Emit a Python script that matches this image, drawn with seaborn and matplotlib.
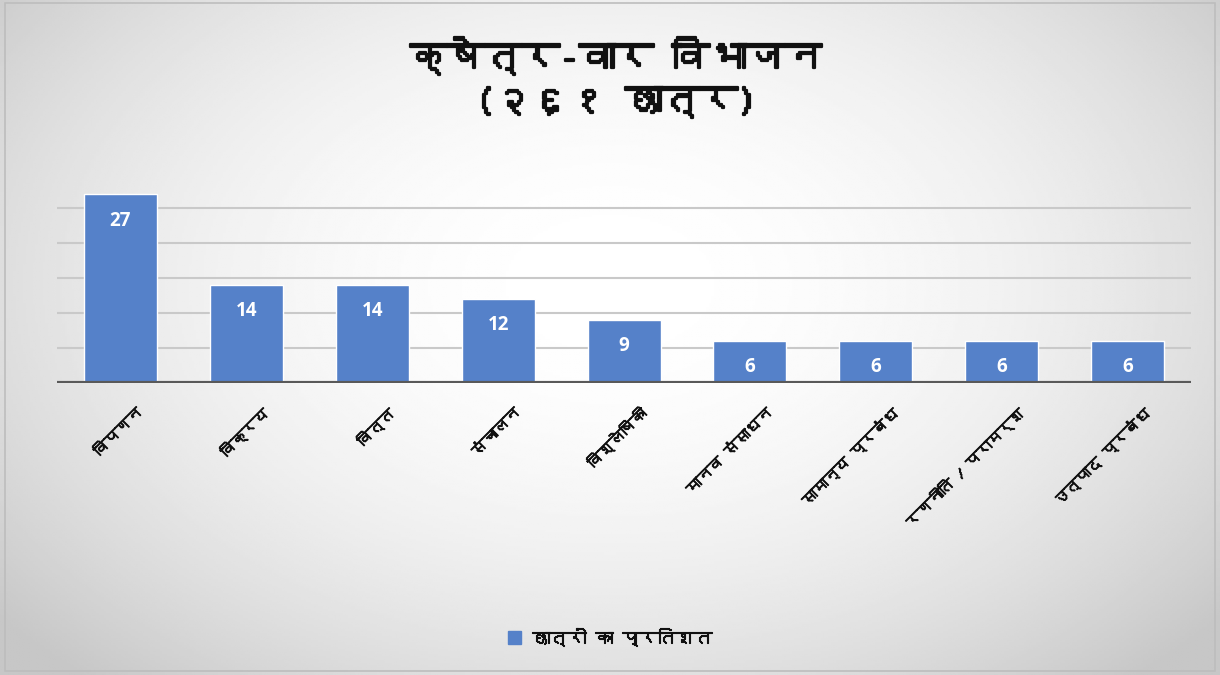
import numpy as np
import matplotlib
matplotlib.use("Agg")
import matplotlib.pyplot as plt
import matplotlib.patheffects as pe
import matplotlib.transforms as mtrans
import seaborn as sns
from matplotlib import font_manager
from matplotlib.ft2font import FT2Font
from matplotlib.patches import Patch

# chart data
categories = ["विपणन", "विक्रय", "वित्त", "संचालन", "विश्लेषिकी",
              "मानव संसाधन", "सामान्य प्रबंध", "रणनीति / परामर्श", "उत्पाद प्रबंध"]
values = [27, 14, 14, 12, 9, 6, 6, 6, 6]
title_text = "क्षेत्र-वार विभाजन\n(२६१ छात्र)"
series_name = "छात्रों का प्रतिशत"
grid_ticks = [5, 10, 15, 20, 25]

bar_color = "#5581c9"


def find_devanagari_font():
    # look for any installed family that has Devanagari glyphs
    for f in font_manager.fontManager.ttflist:
        try:
            if 0x0915 in FT2Font(f.fname).get_charmap():
                return f.name
        except Exception:
            continue
    return None


sns.set_theme(style="white")
deva = find_devanagari_font()
families = ([deva] if deva else []) + ["DejaVu Sans"]
plt.rcParams["font.family"] = families


def heavy(w):
    # fake a bold weight for the Devanagari font
    return [pe.withStroke(linewidth=w, foreground="#111111")]


fig = plt.figure(figsize=(12.2, 6.75), dpi=100)

# radial grey-to-white background
bg = fig.add_axes([0, 0, 1, 1], zorder=-10)
yy, xx = np.mgrid[0:1:300j, 0:1:500j]
r2 = ((xx - 0.5) / 0.5) ** 2 + ((yy - 0.42) / 0.6) ** 2
shade = np.clip(1 - 0.13 * r2, 0.78, 1)
bg.imshow(shade, cmap="gray", vmin=0, vmax=1, extent=[0, 1, 0, 1],
          aspect="auto", origin="upper")
bg.add_patch(plt.Rectangle((0.004, 0.006), 0.992, 0.99, fill=False,
                           edgecolor="#bdbdbd", lw=1.2, transform=bg.transAxes))
bg.set_axis_off()

ax = fig.add_axes([0.047, 0.433, 0.929, 0.31])
ax.patch.set_alpha(0)
sns.barplot(x=categories, y=values, color=bar_color, width=0.58,
            saturation=1, ax=ax, zorder=3)
ax.set_ylim(0, 30)
ax.set_xlim(-0.5, 8.5)
for t in grid_ticks:
    ax.axhline(t, color="#c9c9c9", lw=1.5, zorder=1)
ax.axhline(0, color="#595959", lw=3, zorder=4)
for s in ax.spines.values():
    s.set_visible(False)
ax.set_yticks([])
ax.tick_params(axis="x", length=0, pad=0)
ax.set_xticks(range(len(categories)))
ax.set_xticklabels(categories, rotation=45, ha="right", va="center",
                   rotation_mode="anchor", fontsize=11, color="#111111")
shift = mtrans.ScaledTranslation(0.2, -0.28, fig.dpi_scale_trans)
for lbl in ax.get_xticklabels():
    lbl.set_transform(lbl.get_transform() + shift)
    lbl.set_path_effects(heavy(0.7))

for i, v in enumerate(values):
    ax.annotate(str(v), (i, v), xytext=(0, -19), textcoords="offset points",
                ha="center", va="center", color="white", fontsize=13.5,
                fontweight="bold", family=["Open Sans", "DejaVu Sans"], zorder=5)

fig.text(0.505, 0.885, title_text, ha="center", va="center", fontsize=27,
         color="#111111", linespacing=1.45, path_effects=heavy(1.6))

# legend
leg = fig.legend(handles=[Patch(color=bar_color, label=series_name)],
                 loc="center", bbox_to_anchor=(0.5, 0.057), frameon=False,
                 handlelength=0.7, handleheight=0.7, handletextpad=0.6,
                 prop={"size": 13})
for t in leg.get_texts():
    t.set_color("#111111")
    t.set_path_effects(heavy(0.8))

fig.savefig("out.png", dpi=100)
